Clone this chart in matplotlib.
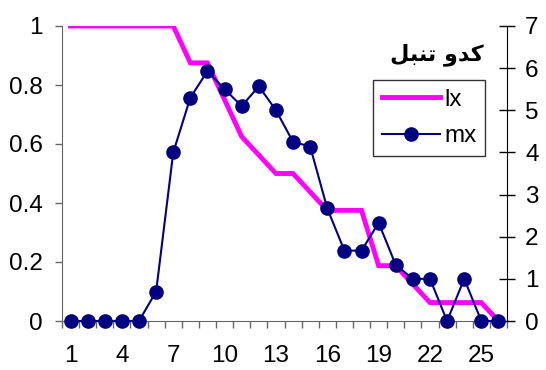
import numpy as np
import matplotlib
matplotlib.use("Agg")
import matplotlib.pyplot as plt
from matplotlib.ticker import FixedLocator, FuncFormatter

# survival (lx) and mortality (mx) by age class
age = np.arange(1, 27)
lx = [1, 1, 1, 1, 1, 1, 1, 0.875, 0.875, 0.75, 0.625, 0.5625, 0.5, 0.5,
      0.4375, 0.375, 0.375, 0.375, 0.1875, 0.1875, 0.125, 0.0625, 0.0625,
      0.0625, 0.0625, 0]
mx = [0, 0, 0, 0, 0, 0.7, 4.0, 5.3, 5.93, 5.5, 5.1, 5.57, 5.0, 4.25, 4.14,
      2.67, 1.67, 1.67, 2.33, 1.33, 1.0, 1.0, 0, 1.0, 0, 0]
xtick_labels = [1, 4, 7, 10, 13, 16, 19, 22, 25]
title = "\ufede\ufe92\ufee8\ufe97 \ufeed\ufeaa\ufedb"  # كدو تنبل, shaped glyphs in visual order

plt.rcParams['font.family'] = ['Liberation Sans', 'DejaVu Sans']
plt.rcParams['font.size'] = 17.5

fig = plt.figure(figsize=(5.46, 3.70), dpi=100)
ax = fig.add_axes([62/546, 49/370, 445/546, 295/370])
ax2 = ax.twinx()

ax.plot(age, lx, color='#ff00ff', lw=3.5, solid_joinstyle='miter', label='lx', zorder=2)
ax2.plot(age, mx, color='#000080', lw=1.5, marker='o', ms=9.5, clip_on=False,
         label='mx', zorder=3)

ax.set_xlim(0.5, 26.5)
ax.set_ylim(0, 1)
ax2.set_ylim(0, 7)

# category style x axis: ticks between classes, labels every third class
ax.xaxis.set_major_locator(FixedLocator(xtick_labels))
ax.xaxis.set_minor_locator(FixedLocator(np.arange(0.5, 27, 1)))
ax.tick_params(axis='x', which='major', length=0, pad=17)
ax.tick_params(axis='x', which='minor', length=5, width=1, color='#666666', direction='out')

ax.set_yticks(np.arange(0, 1.01, 0.2))
ax.yaxis.set_major_formatter(FuncFormatter(lambda v, p: '%g' % round(v, 1)))
ax.tick_params(axis='y', length=5, width=1, color='#666666', direction='out', pad=9)

ax2.set_yticks(range(0, 8))
ax2.tick_params(axis='y', length=12, width=1, color='black', direction='inout', pad=7)

for a in (ax, ax2):
    a.spines['top'].set_visible(False)
ax.spines['left'].set_color('#666666')
ax.spines['bottom'].set_color('#666666')
ax.spines['right'].set_visible(False)
ax2.spines['left'].set_visible(False)
ax2.spines['bottom'].set_visible(False)
ax2.spines['right'].set_color('black')

h1, l1 = ax.get_legend_handles_labels()
h2, l2 = ax2.get_legend_handles_labels()
leg = ax2.legend(h1 + h2, l1 + l2, loc='upper left',
                 bbox_to_anchor=((373-62)/445, (321-80)/295),
                 borderaxespad=0, frameon=True, fancybox=False,
                 edgecolor='black', handlelength=2.4, handletextpad=0.2,
                 borderpad=0.35, labelspacing=0.6, fontsize=17.5)
leg.get_frame().set_linewidth(1)

fig.text(437/546, 1 - 55/370, title, family=['DejaVu Sans'], weight='bold',
         fontsize=16, ha='center', va='center')

fig.savefig('out.png', dpi=100)
